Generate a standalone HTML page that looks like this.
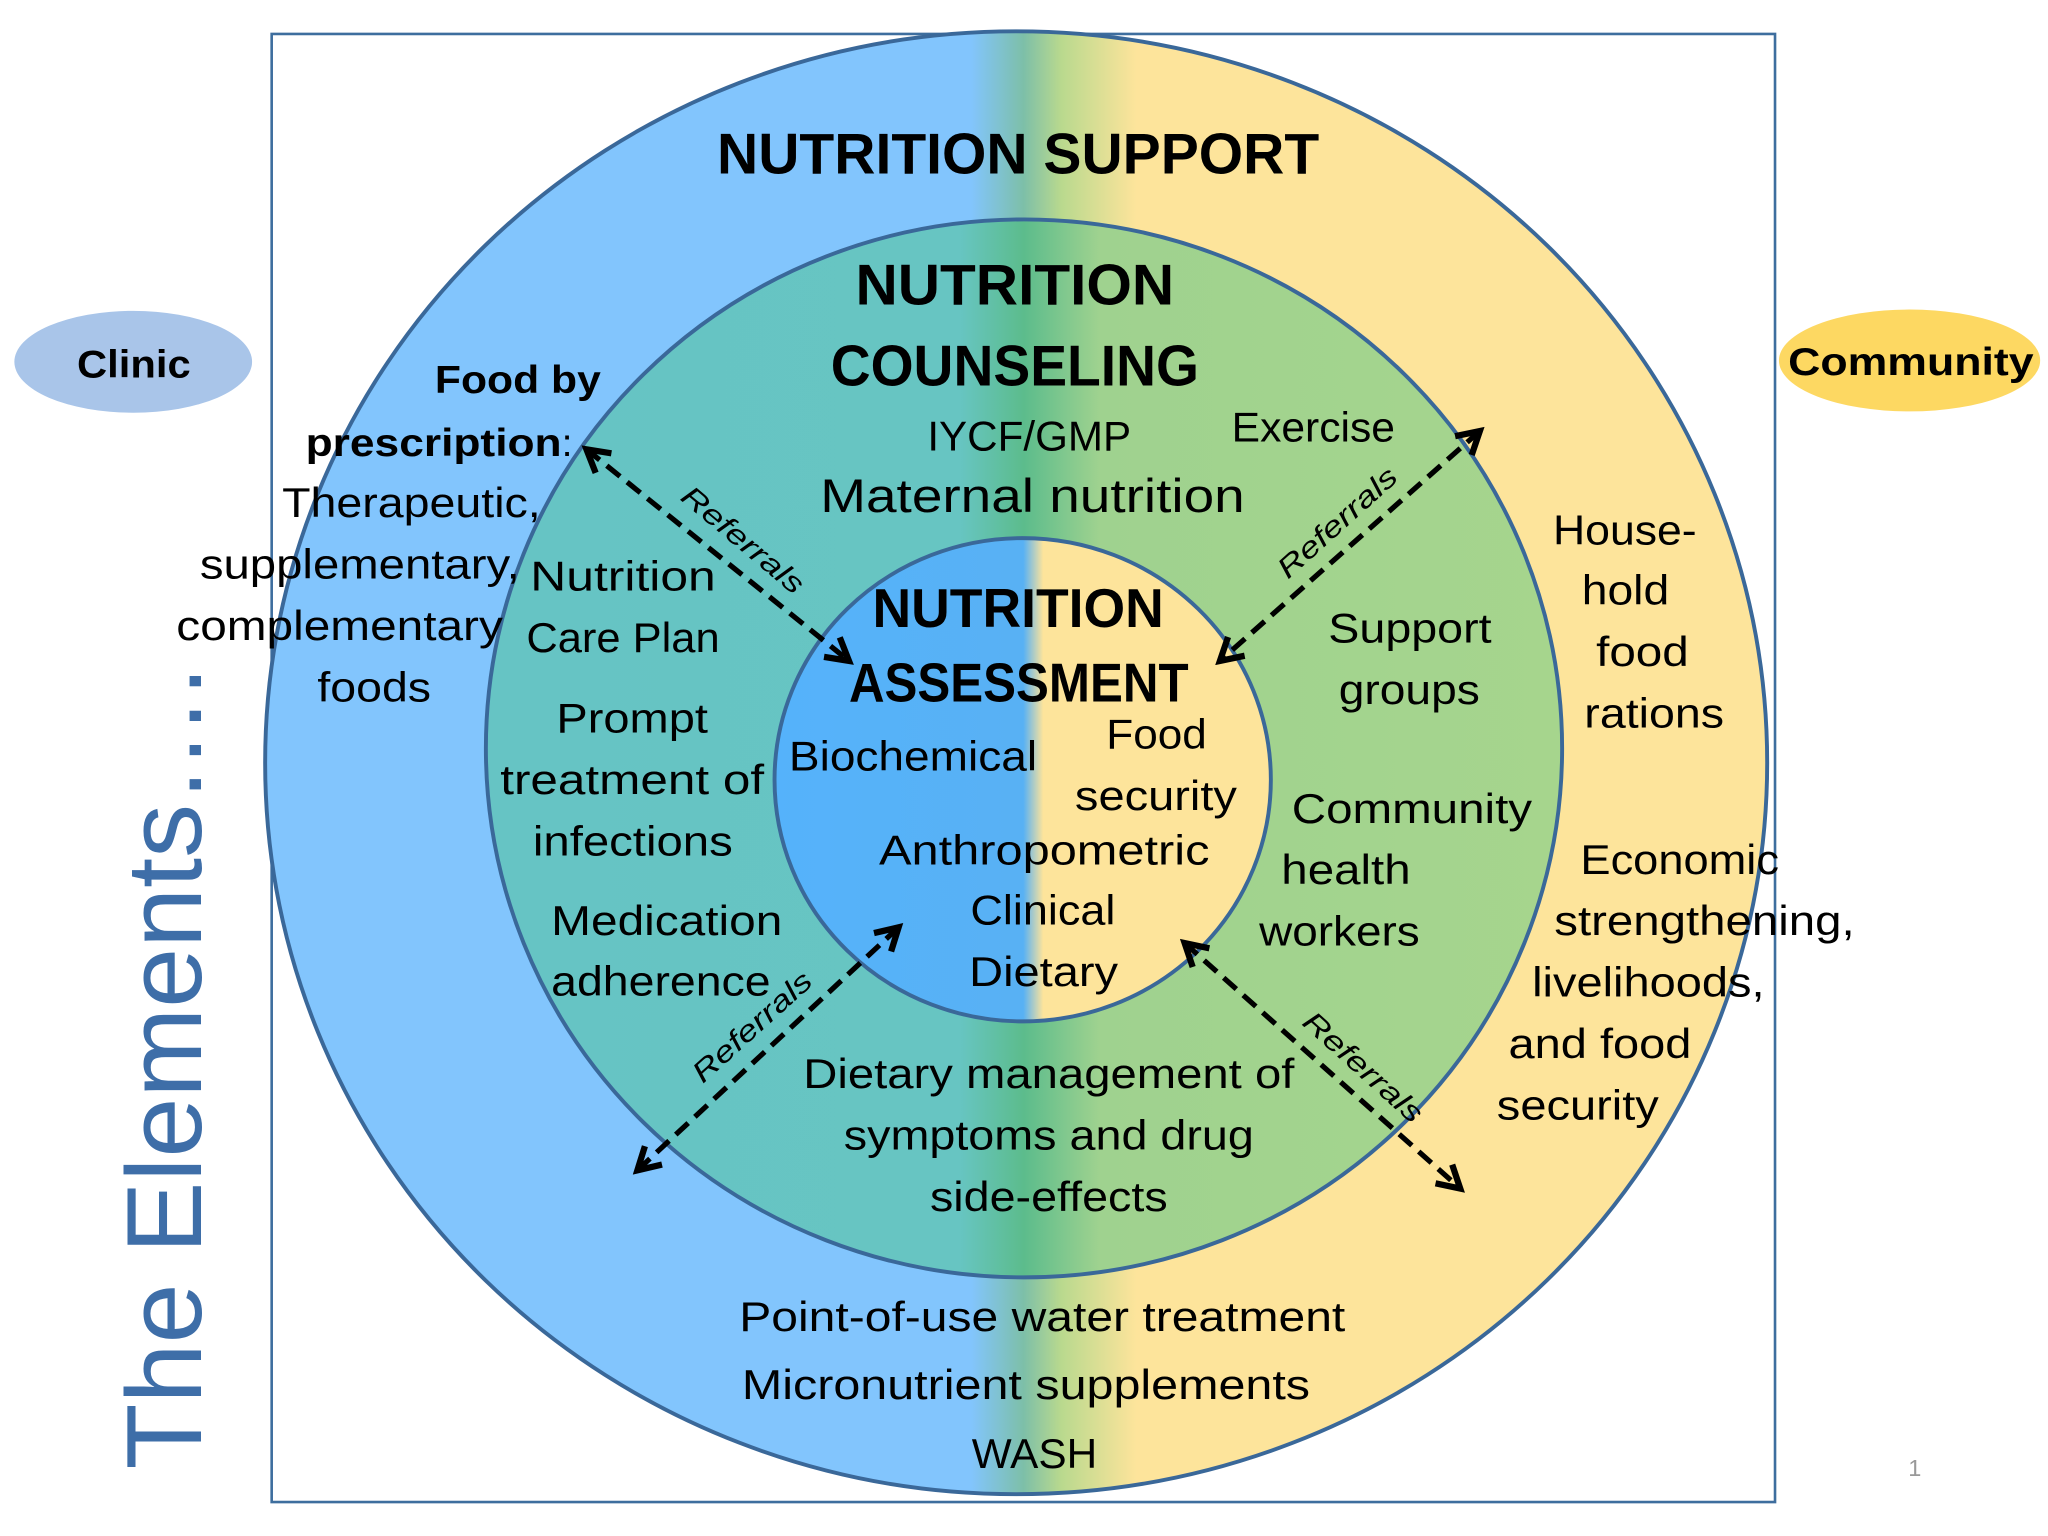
<!DOCTYPE html>
<html><head><meta charset="utf-8"><style>
html,body{margin:0;padding:0;background:#fff;width:2048px;height:1536px;overflow:hidden}
svg{display:block}
text{font-family:"Liberation Sans",sans-serif;fill:#000}
.b{font-weight:bold}
.r{font-size:32px}
.ref{font-size:22px;font-style:italic}
</style></head><body>
<svg width="2048" height="1536" viewBox="0 0 1568 1176" xmlns="http://www.w3.org/2000/svg">
<defs>
<linearGradient id="g1" gradientUnits="userSpaceOnUse" x1="203" y1="0" x2="1353" y2="0">
<stop offset="0" stop-color="#82c5fd"/>
<stop offset="0.47" stop-color="#82c5fd"/>
<stop offset="0.505" stop-color="#7dbfa8"/>
<stop offset="0.53" stop-color="#b9d98e"/>
<stop offset="0.58" stop-color="#fde49b"/>
<stop offset="1" stop-color="#fde49b"/>
</linearGradient>
<linearGradient id="g2" gradientUnits="userSpaceOnUse" x1="372" y1="0" x2="1196" y2="0">
<stop offset="0" stop-color="#66c4c4"/>
<stop offset="0.44" stop-color="#67c5c2"/>
<stop offset="0.5" stop-color="#5cbc8c"/>
<stop offset="0.57" stop-color="#9fd28f"/>
<stop offset="1" stop-color="#a6d58d"/>
</linearGradient>
<linearGradient id="g3" gradientUnits="userSpaceOnUse" x1="593" y1="0" x2="974" y2="0">
<stop offset="0" stop-color="#55b2fb"/>
<stop offset="0.5" stop-color="#58b1f4"/>
<stop offset="0.54" stop-color="#fde49b"/>
<stop offset="1" stop-color="#fde49b"/>
</linearGradient>
<marker id="ah" viewBox="0 0 10 10" refX="8" refY="5" markerWidth="6" markerHeight="6" orient="auto-start-reverse" markerUnits="strokeWidth">
<path d="M1,1 L8,5 L1,9" fill="none" stroke="#000" stroke-width="2"/>
</marker>
</defs>
<rect x="208" y="26" width="1151" height="1124" fill="none" stroke="#3e6e9e" stroke-width="2"/>
<ellipse cx="778" cy="584" rx="575" ry="560" fill="url(#g1)" stroke="#3a6899" stroke-width="3"/>
<ellipse cx="784" cy="573" rx="412" ry="405" fill="url(#g2)" stroke="#3a6899" stroke-width="3"/>
<ellipse cx="783" cy="597" rx="190" ry="185" fill="url(#g3)" stroke="#3a6899" stroke-width="3"/>

<ellipse cx="102" cy="277" rx="91" ry="39" fill="#a9c5e9"/>
<ellipse cx="1462" cy="276" rx="100" ry="39" fill="#fdd862"/>
<text class="b" x="59" y="289" font-size="30" textLength="87" lengthAdjust="spacingAndGlyphs">Clinic</text>
<text class="b" x="1369" y="287" font-size="30" textLength="188" lengthAdjust="spacingAndGlyphs">Community</text>

<text x="0" y="0" font-size="82" style="fill:#3e6ea8" transform="translate(154,1125) rotate(-90)" textLength="615" lengthAdjust="spacingAndGlyphs">The Elements….</text>
<text x="1461" y="1130" font-size="18" style="fill:#999">1</text>

<!-- arrows -->
<g stroke="#000" stroke-width="4" stroke-dasharray="13 7" fill="none">
<line x1="449" y1="344" x2="650" y2="506" marker-start="url(#ah)" marker-end="url(#ah)"/>
<line x1="1133" y1="330" x2="934" y2="506" marker-start="url(#ah)" marker-end="url(#ah)"/>
<line x1="688" y1="710" x2="488" y2="896" marker-start="url(#ah)" marker-end="url(#ah)"/>
<line x1="907" y1="722" x2="1118" y2="910" marker-start="url(#ah)" marker-end="url(#ah)"/>
</g>
<text class="ref" transform="translate(520,382) rotate(40)" textLength="115" lengthAdjust="spacingAndGlyphs">Referrals</text>
<text class="ref" transform="translate(986,444) rotate(-42)" textLength="115" lengthAdjust="spacingAndGlyphs">Referrals</text>
<text class="ref" transform="translate(538,830) rotate(-42)" textLength="115" lengthAdjust="spacingAndGlyphs">Referrals</text>
<text class="ref" transform="translate(996,784) rotate(42)" textLength="115" lengthAdjust="spacingAndGlyphs">Referrals</text>

<!-- headings -->
<text class="b" x="549" y="133" font-size="44" textLength="461" lengthAdjust="spacingAndGlyphs">NUTRITION SUPPORT</text>
<text class="b" x="655" y="233" font-size="44" textLength="244" lengthAdjust="spacingAndGlyphs">NUTRITION</text>
<text class="b" x="636" y="295" font-size="44" textLength="282" lengthAdjust="spacingAndGlyphs">COUNSELING</text>
<text class="b" x="668" y="480" font-size="42" textLength="223" lengthAdjust="spacingAndGlyphs">NUTRITION</text>
<text class="b" x="650" y="537" font-size="42" textLength="260" lengthAdjust="spacingAndGlyphs">ASSESSMENT</text>

<g class="r" font-size="32">
<text x="710" y="345" font-size="32" textLength="156" lengthAdjust="spacingAndGlyphs">IYCF/GMP</text>
<text x="943" y="338" font-size="32" textLength="125" lengthAdjust="spacingAndGlyphs">Exercise</text>
<text x="628" y="392" font-size="36" textLength="325" lengthAdjust="spacingAndGlyphs">Maternal nutrition</text>

<text x="604" y="590" font-size="32" textLength="190" lengthAdjust="spacingAndGlyphs">Biochemical</text>
<text x="847" y="573" font-size="32" textLength="77" lengthAdjust="spacingAndGlyphs">Food</text>
<text x="823" y="620" font-size="32" textLength="124" lengthAdjust="spacingAndGlyphs">security</text>
<text x="673" y="662" font-size="32" textLength="253" lengthAdjust="spacingAndGlyphs">Anthropometric</text>
<text x="743" y="708" font-size="32" textLength="111" lengthAdjust="spacingAndGlyphs">Clinical</text>
<text x="742" y="755" font-size="32" textLength="114" lengthAdjust="spacingAndGlyphs">Dietary</text>

<text x="406" y="452" font-size="32" textLength="142" lengthAdjust="spacingAndGlyphs">Nutrition</text>
<text x="403" y="499" font-size="32" textLength="148" lengthAdjust="spacingAndGlyphs">Care Plan</text>
<text x="426" y="561" font-size="32" textLength="116" lengthAdjust="spacingAndGlyphs">Prompt</text>
<text x="383" y="608" font-size="32" textLength="202" lengthAdjust="spacingAndGlyphs">treatment of</text>
<text x="408" y="655" font-size="32" textLength="153" lengthAdjust="spacingAndGlyphs">infections</text>
<text x="422" y="716" font-size="32" textLength="177" lengthAdjust="spacingAndGlyphs">Medication</text>
<text x="422" y="762" font-size="32" textLength="168" lengthAdjust="spacingAndGlyphs">adherence</text>

<text class="b" x="333" y="301" font-size="30" textLength="127" lengthAdjust="spacingAndGlyphs">Food by</text>
<text class="b" x="234" y="349" font-size="30" textLength="196" lengthAdjust="spacingAndGlyphs">prescription</text>
<text x="430" y="349" font-size="30">:</text>
<text x="216" y="396" font-size="32" textLength="198" lengthAdjust="spacingAndGlyphs">Therapeutic,</text>
<text x="153" y="443" font-size="32" textLength="245" lengthAdjust="spacingAndGlyphs">supplementary,</text>
<text x="135" y="490" font-size="32" textLength="250" lengthAdjust="spacingAndGlyphs">complementary</text>
<text x="243" y="537" font-size="32" textLength="87" lengthAdjust="spacingAndGlyphs">foods</text>

<text x="1017" y="492" font-size="32" textLength="125" lengthAdjust="spacingAndGlyphs">Support</text>
<text x="1025" y="539" font-size="32" textLength="108" lengthAdjust="spacingAndGlyphs">groups</text>
<text x="989" y="630" font-size="32" textLength="184" lengthAdjust="spacingAndGlyphs">Community</text>
<text x="981" y="677" font-size="32" textLength="99" lengthAdjust="spacingAndGlyphs">health</text>
<text x="964" y="724" font-size="32" textLength="123" lengthAdjust="spacingAndGlyphs">workers</text>

<text x="1189" y="417" font-size="32" textLength="110" lengthAdjust="spacingAndGlyphs">House-</text>
<text x="1211" y="463" font-size="32" textLength="67" lengthAdjust="spacingAndGlyphs">hold</text>
<text x="1222" y="510" font-size="32" textLength="71" lengthAdjust="spacingAndGlyphs">food</text>
<text x="1213" y="557" font-size="32" textLength="107" lengthAdjust="spacingAndGlyphs">rations</text>
<text x="1210" y="669" font-size="32" textLength="152" lengthAdjust="spacingAndGlyphs">Economic</text>
<text x="1190" y="716" font-size="32" textLength="230" lengthAdjust="spacingAndGlyphs">strengthening,</text>
<text x="1173" y="763" font-size="32" textLength="178" lengthAdjust="spacingAndGlyphs">livelihoods,</text>
<text x="1155" y="810" font-size="32" textLength="140" lengthAdjust="spacingAndGlyphs">and food</text>
<text x="1146" y="857" font-size="32" textLength="124" lengthAdjust="spacingAndGlyphs">security</text>

<text x="615" y="833" font-size="32" textLength="376" lengthAdjust="spacingAndGlyphs">Dietary management of</text>
<text x="646" y="880" font-size="32" textLength="314" lengthAdjust="spacingAndGlyphs">symptoms and drug</text>
<text x="712" y="927" font-size="32" textLength="182" lengthAdjust="spacingAndGlyphs">side-effects</text>

<text x="566" y="1019" font-size="32" textLength="464" lengthAdjust="spacingAndGlyphs">Point-of-use water treatment</text>
<text x="568" y="1071" font-size="32" textLength="435" lengthAdjust="spacingAndGlyphs">Micronutrient supplements</text>
<text x="744" y="1124" font-size="32" textLength="96" lengthAdjust="spacingAndGlyphs">WASH</text>
</g>
</svg>
</body></html>
